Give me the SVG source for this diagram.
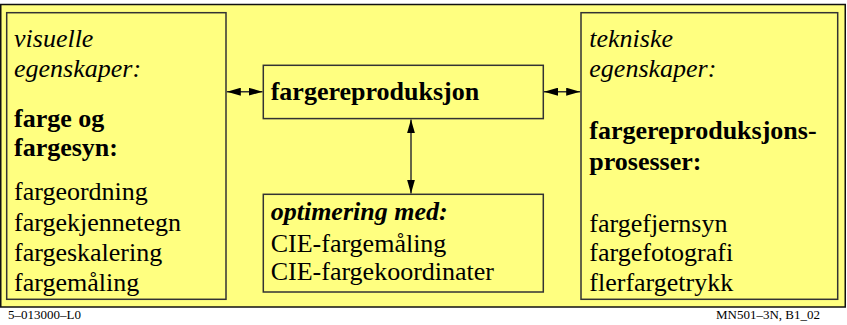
<svg xmlns="http://www.w3.org/2000/svg" width="847" height="325" viewBox="0 0 847 325">
<style>
.box{fill:#ffff80;stroke:#333;stroke-width:1.5}
.t{font-family:"Liberation Serif","Times New Roman",serif;font-size:26px;fill:#000}
.i{font-style:italic}
.b{font-weight:bold}
.f{font-family:"Liberation Serif","Times New Roman",serif;font-size:13px;fill:#000}
.c{stroke:#333;stroke-width:1.5;fill:none}
</style>
<defs>
<marker id="ah" viewBox="0 0 14 8" refX="14" refY="4" markerWidth="14" markerHeight="8" markerUnits="userSpaceOnUse" orient="auto-start-reverse">
<path d="M0,0 L14,4 L0,8 Z" fill="#000"/>
</marker>
</defs>
<rect x="0.75" y="4.5" width="844.5" height="302.5" fill="#ffff80" stroke="#111" stroke-width="1.5"/>
<g id="left">
<rect class="box" x="6.7" y="12.7" width="219.3" height="286.6"/>
<text class="t i" x="14" y="46.7">visuelle</text>
<text class="t i" x="14" y="77">egenskaper:</text>
<text class="t b" x="14" y="126.7">farge og</text>
<text class="t b" x="14" y="155.5">fargesyn:</text>
<text class="t" x="14" y="200">fargeordning</text>
<text class="t" x="14" y="230.5">fargekjennetegn</text>
<text class="t" x="14" y="261">fargeskalering</text>
<text class="t" x="14" y="291">fargemåling</text>
</g>
<g id="center-top">
<rect class="box" x="263.3" y="65.3" width="280" height="53.3"/>
<text class="t b" x="270.7" y="100">fargereproduksjon</text>
</g>
<g id="center-bottom">
<rect class="box" x="263.3" y="194.3" width="280" height="97.7"/>
<text class="t b i" x="270.7" y="220">optimering med:</text>
<text class="t" x="270.7" y="251.7">CIE-fargemåling</text>
<text class="t" x="270.7" y="280">CIE-fargekoordinater</text>
</g>
<g id="right">
<rect class="box" x="581" y="12.7" width="256.7" height="286.6"/>
<text class="t i" x="589.3" y="46.7">tekniske</text>
<text class="t i" x="589.3" y="77">egenskaper:</text>
<text class="t b" x="589.3" y="139">fargereproduksjons-</text>
<text class="t b" x="589.3" y="169.5">prosesser:</text>
<text class="t" x="589.3" y="231.7">fargefjernsyn</text>
<text class="t" x="589.3" y="261">fargefotografi</text>
<text class="t" x="589.3" y="290.7">flerfargetrykk</text>
</g>
<g id="connectors">
<line class="c" x1="226.8" y1="91.7" x2="262.5" y2="91.7" marker-start="url(#ah)" marker-end="url(#ah)"/>
<line class="c" x1="544" y1="91.7" x2="580.2" y2="91.7" marker-start="url(#ah)" marker-end="url(#ah)"/>
<line class="c" x1="411" y1="119.4" x2="411" y2="193.5" marker-start="url(#ah)" marker-end="url(#ah)"/>
</g>
<text class="f" x="8" y="319">5–013000–L0</text>
<text class="f" x="820" y="319" text-anchor="end">MN501–3N, B1_02</text>
</svg>
